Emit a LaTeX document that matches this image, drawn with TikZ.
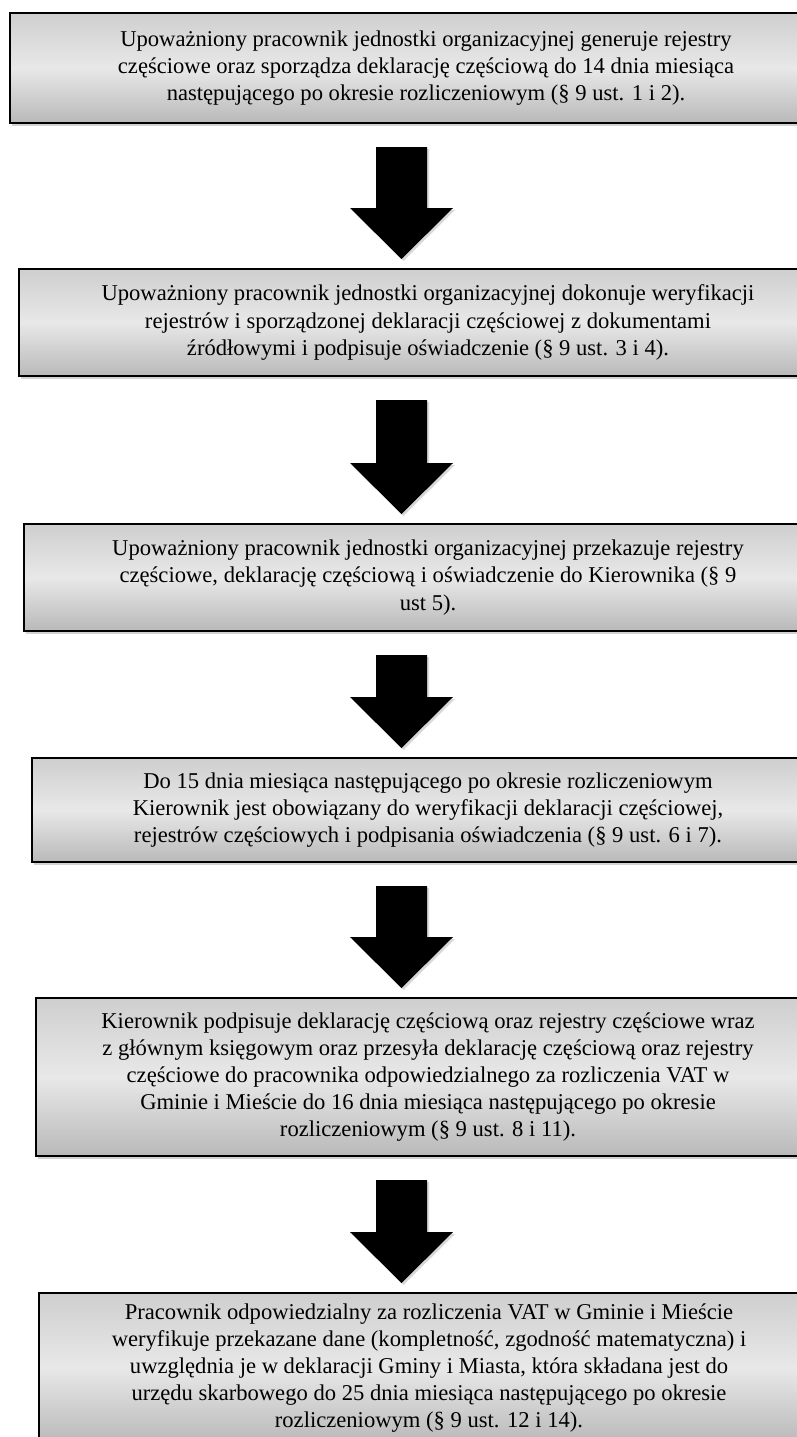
\documentclass[tikz,border=0pt]{standalone}
\usepackage{fontspec}
\setmainfont{Liberation Serif}
\usetikzlibrary{calc,shadows}
\newcommand\myarrow[2]{%
  \fill[blockarr] ($(#1.south -| ax)+(-25.5,-23)$) -- ($(#1.south -| ax)+(25.5,-23)$)
    -- ($(#2.north -| ax)+(25.5,60)$) -- ($(#2.north -| ax)+(51.5,60)$)
    -- ($(#2.north -| ax)+(0,9)$) -- ($(#2.north -| ax)+(-51.5,60)$)
    -- ($(#2.north -| ax)+(-25.5,60)$) -- cycle;}
\begin{document}
\begin{tikzpicture}[x=1pt,y=1pt,
  stepbox/.style={draw=black, line width=2pt, top color=gray!38, bottom color=gray!55, middle color=gray!18,
    align=center, font=\fontsize{22.6}{27.2}\selectfont, inner sep=0pt, anchor=north west,
    drop shadow={shadow xshift=2pt, shadow yshift=-3pt, opacity=0.35}},
  blockarr/.style={fill=black, drop shadow={shadow xshift=2pt, shadow yshift=-2pt, opacity=0.3}}]
\useasboundingbox (0,0) rectangle (796,-1437);
\fill[white] (0,0) rectangle (796,-1437);
\coordinate (ax) at (401.5,0);
\node[stepbox, minimum width=832, minimum height=110] (b1) at (9,-12)
 {Upoważniony pracownik jednostki organizacyjnej generuje rejestry\\częściowe oraz sporządza deklarację częściową do 14 dnia miesiąca\\następującego po okresie rozliczeniowym (§ 9 ust. 1 i 2).};
\node[stepbox, minimum width=818, minimum height=107] (b2) at (18,-268)
 {Upoważniony pracownik jednostki organizacyjnej dokonuje weryfikacji\\rejestrów i sporządzonej deklaracji częściowej z dokumentami\\źródłowymi i podpisuje oświadczenie (§ 9 ust. 3 i 4).};
\node[stepbox, minimum width=808, minimum height=107] (b3) at (23,-523)
 {Upoważniony pracownik jednostki organizacyjnej przekazuje rejestry\\częściowe, deklarację częściową i oświadczenie do Kierownika (§ 9\\ust 5).};
\node[stepbox, minimum width=792, minimum height=104] (b4) at (31,-757)
 {Do 15 dnia miesiąca następującego po okresie rozliczeniowym\\Kierownik jest obowiązany do weryfikacji deklaracji częściowej,\\rejestrów częściowych i podpisania oświadczenia (§ 9 ust. 6 i 7).};
\node[stepbox, minimum width=784, minimum height=158] (b5) at (35,-997)
 {Kierownik podpisuje deklarację częściową oraz rejestry częściowe wraz\\z głównym księgowym oraz przesyła deklarację częściową oraz rejestry\\częściowe do pracownika odpowiedzialnego za rozliczenia VAT w\\Gminie i Mieście do 16 dnia miesiąca następującego po okresie\\rozliczeniowym (§ 9 ust. 8 i 11).};
\node[stepbox, minimum width=780, minimum height=150] (b6) at (38,-1292)
 {Pracownik odpowiedzialny za rozliczenia VAT w Gminie i Mieście\\weryfikuje przekazane dane (kompletność, zgodność matematyczna) i\\uwzględnia je w deklaracji Gminy i Miasta, która składana jest do\\urzędu skarbowego do 25 dnia miesiąca następującego po okresie\\rozliczeniowym (§ 9 ust. 12 i 14).};
\myarrow{b1}{b2}
\myarrow{b2}{b3}
\myarrow{b3}{b4}
\myarrow{b4}{b5}
\myarrow{b5}{b6}
\end{tikzpicture}
\end{document}
